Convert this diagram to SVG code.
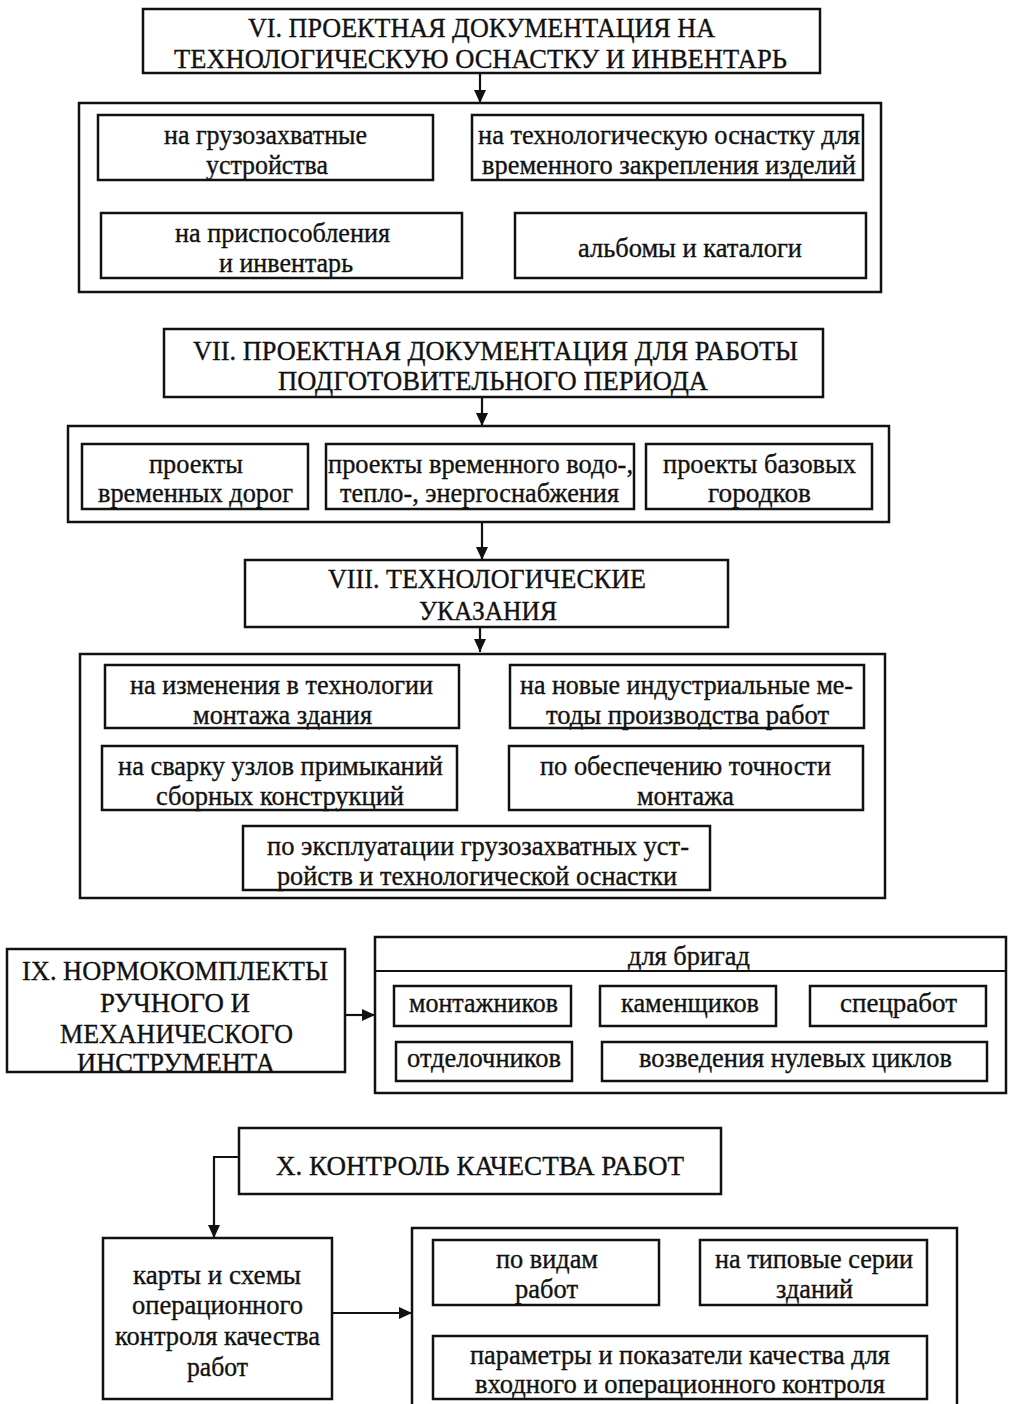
<svg xmlns="http://www.w3.org/2000/svg" width="1010" height="1404" viewBox="0 0 1010 1404">
<style>
.box{fill:none;stroke:#111;stroke-width:2.5}
.ln{fill:none;stroke:#111;stroke-width:2.2}
text{font-family:"Liberation Serif","Times New Roman",serif;font-size:28px;fill:#111;stroke:#111;stroke-width:0.35}
</style>
<defs>
<marker id="ah" markerUnits="userSpaceOnUse" markerWidth="14" markerHeight="14" refX="13" refY="6" orient="auto">
<path d="M0,0 L13,6 L0,12 z" fill="#111"/>
</marker>
</defs>
<rect width="1010" height="1404" fill="#fff"/>

<g id="connectors">
<line class="ln" x1="480" y1="73" x2="480" y2="103" marker-end="url(#ah)"/>
<line class="ln" x1="482" y1="397" x2="482" y2="426" marker-end="url(#ah)"/>
<line class="ln" x1="482" y1="522" x2="482" y2="560" marker-end="url(#ah)"/>
<line class="ln" x1="480" y1="627" x2="480" y2="652" marker-end="url(#ah)"/>
<line class="ln" x1="345" y1="1015" x2="375" y2="1015" marker-end="url(#ah)"/>
<polyline class="ln" points="239,1157 214,1157 214,1238" marker-end="url(#ah)"/>
<line class="ln" x1="332" y1="1313" x2="412" y2="1313" marker-end="url(#ah)"/>
</g>

<g id="vi-title">
<rect class="box" x="143" y="9" width="677" height="64"/>
<text x="248" y="37" textLength="467" lengthAdjust="spacingAndGlyphs">VI. ПРОЕКТНАЯ ДОКУМЕНТАЦИЯ НА</text>
<text x="174" y="68" textLength="613" lengthAdjust="spacingAndGlyphs">ТЕХНОЛОГИЧЕСКУЮ ОСНАСТКУ И ИНВЕНТАРЬ</text>
</g>
<g id="vi-container"><rect class="box" x="79" y="103" width="802" height="189"/></g>
<g id="vi-1">
<rect class="box" x="98" y="115" width="335" height="65"/>
<text x="164" y="144" textLength="203" lengthAdjust="spacingAndGlyphs">на грузозахватные</text>
<text x="206" y="174" textLength="122" lengthAdjust="spacingAndGlyphs">устройства</text>
</g>
<g id="vi-2">
<rect class="box" x="472" y="115" width="391" height="65"/>
<text x="478" y="144" textLength="382" lengthAdjust="spacingAndGlyphs">на технологическую оснастку для</text>
<text x="482" y="174" textLength="374" lengthAdjust="spacingAndGlyphs">временного закрепления изделий</text>
</g>
<g id="vi-3">
<rect class="box" x="101" y="213" width="361" height="65"/>
<text x="175" y="242" textLength="215" lengthAdjust="spacingAndGlyphs">на приспособления</text>
<text x="219" y="272" textLength="134" lengthAdjust="spacingAndGlyphs">и инвентарь</text>
</g>
<g id="vi-4">
<rect class="box" x="515" y="213" width="351" height="65"/>
<text x="578" y="257" textLength="224" lengthAdjust="spacingAndGlyphs">альбомы и каталоги</text>
</g>

<g id="vii-title">
<rect class="box" x="164" y="329" width="659" height="68"/>
<text x="193" y="360" textLength="605" lengthAdjust="spacingAndGlyphs">VII. ПРОЕКТНАЯ ДОКУМЕНТАЦИЯ ДЛЯ РАБОТЫ</text>
<text x="278" y="390" textLength="430" lengthAdjust="spacingAndGlyphs">ПОДГОТОВИТЕЛЬНОГО ПЕРИОДА</text>
</g>
<g id="vii-container"><rect class="box" x="68" y="426" width="821" height="96"/></g>
<g id="vii-1">
<rect class="box" x="82" y="444" width="226" height="65"/>
<text x="149" y="473" textLength="94" lengthAdjust="spacingAndGlyphs">проекты</text>
<text x="98" y="502" textLength="195" lengthAdjust="spacingAndGlyphs">временных дорог</text>
</g>
<g id="vii-2">
<rect class="box" x="326" y="444" width="308" height="65"/>
<text x="328" y="473" textLength="305" lengthAdjust="spacingAndGlyphs">проекты временного водо-,</text>
<text x="340" y="502" textLength="279" lengthAdjust="spacingAndGlyphs">тепло-, энергоснабжения</text>
</g>
<g id="vii-3">
<rect class="box" x="646" y="444" width="226" height="65"/>
<text x="663" y="473" textLength="193" lengthAdjust="spacingAndGlyphs">проекты базовых</text>
<text x="708" y="502" textLength="103" lengthAdjust="spacingAndGlyphs">городков</text>
</g>

<g id="viii-title">
<rect class="box" x="245" y="560" width="483" height="67"/>
<text x="328" y="588" textLength="318" lengthAdjust="spacingAndGlyphs">VIII. ТЕХНОЛОГИЧЕСКИЕ</text>
<text x="419" y="620" textLength="138" lengthAdjust="spacingAndGlyphs">УКАЗАНИЯ</text>
</g>
<g id="viii-container"><rect class="box" x="80" y="654" width="805" height="244"/></g>
<g id="viii-1">
<rect class="box" x="105" y="665" width="354" height="63"/>
<text x="130" y="694" textLength="303" lengthAdjust="spacingAndGlyphs">на изменения в технологии</text>
<text x="193" y="724" textLength="179" lengthAdjust="spacingAndGlyphs">монтажа здания</text>
</g>
<g id="viii-2">
<rect class="box" x="510" y="665" width="354" height="63"/>
<text x="520" y="694" textLength="333" lengthAdjust="spacingAndGlyphs">на новые индустриальные ме-</text>
<text x="546" y="724" textLength="283" lengthAdjust="spacingAndGlyphs">тоды производства работ</text>
</g>
<g id="viii-3">
<rect class="box" x="102" y="746" width="355" height="64"/>
<text x="118" y="775" textLength="325" lengthAdjust="spacingAndGlyphs">на сварку узлов примыканий</text>
<text x="156" y="805" textLength="248" lengthAdjust="spacingAndGlyphs">сборных конструкций</text>
</g>
<g id="viii-4">
<rect class="box" x="509" y="746" width="354" height="64"/>
<text x="540" y="775" textLength="291" lengthAdjust="spacingAndGlyphs">по обеспечению точности</text>
<text x="637" y="805" textLength="97" lengthAdjust="spacingAndGlyphs">монтажа</text>
</g>
<g id="viii-5">
<rect class="box" x="243" y="826" width="467" height="64"/>
<text x="267" y="855" textLength="422" lengthAdjust="spacingAndGlyphs">по эксплуатации грузозахватных уст-</text>
<text x="277" y="885" textLength="400" lengthAdjust="spacingAndGlyphs">ройств и технологической оснастки</text>
</g>

<g id="ix-title">
<rect class="box" x="7" y="949" width="338" height="123"/>
<text x="22" y="980" textLength="306" lengthAdjust="spacingAndGlyphs">IX. НОРМОКОМПЛЕКТЫ</text>
<text x="100" y="1012" textLength="150" lengthAdjust="spacingAndGlyphs">РУЧНОГО И</text>
<text x="60" y="1043" textLength="233" lengthAdjust="spacingAndGlyphs">МЕХАНИЧЕСКОГО</text>
<text x="77" y="1072" textLength="198" lengthAdjust="spacingAndGlyphs">ИНСТРУМЕНТА</text>
</g>
<g id="ix-container">
<rect class="box" x="375" y="937" width="631" height="156"/>
<line class="ln" x1="375" y1="971" x2="1006" y2="971"/>
<text x="628" y="965" textLength="122" lengthAdjust="spacingAndGlyphs">для бригад</text>
</g>
<g id="ix-1"><rect class="box" x="394" y="986" width="177" height="40"/><text x="409" y="1012" textLength="149" lengthAdjust="spacingAndGlyphs">монтажников</text></g>
<g id="ix-2"><rect class="box" x="600" y="986" width="176" height="40"/><text x="621" y="1012" textLength="138" lengthAdjust="spacingAndGlyphs">каменщиков</text></g>
<g id="ix-3"><rect class="box" x="810" y="986" width="176" height="40"/><text x="840" y="1012" textLength="117" lengthAdjust="spacingAndGlyphs">спецработ</text></g>
<g id="ix-4"><rect class="box" x="396" y="1042" width="176" height="39"/><text x="407" y="1067" textLength="154" lengthAdjust="spacingAndGlyphs">отделочников</text></g>
<g id="ix-5"><rect class="box" x="602" y="1042" width="385" height="39"/><text x="639" y="1067" textLength="313" lengthAdjust="spacingAndGlyphs">возведения нулевых циклов</text></g>

<g id="x-title">
<rect class="box" x="239" y="1128" width="482" height="66"/>
<text x="276" y="1175" textLength="408" lengthAdjust="spacingAndGlyphs">X. КОНТРОЛЬ КАЧЕСТВА РАБОТ</text>
</g>
<g id="x-cards">
<rect class="box" x="103" y="1238" width="229" height="161"/>
<text x="133" y="1284" textLength="168" lengthAdjust="spacingAndGlyphs">карты и схемы</text>
<text x="132" y="1314" textLength="171" lengthAdjust="spacingAndGlyphs">операционного</text>
<text x="115" y="1345" textLength="205" lengthAdjust="spacingAndGlyphs">контроля качества</text>
<text x="187" y="1376" textLength="61" lengthAdjust="spacingAndGlyphs">работ</text>
</g>
<g id="x-container"><rect class="box" x="412" y="1228" width="545" height="190"/></g>
<g id="x-1">
<rect class="box" x="433" y="1240" width="226" height="65"/>
<text x="496" y="1268" textLength="102" lengthAdjust="spacingAndGlyphs">по видам</text>
<text x="515" y="1298" textLength="63" lengthAdjust="spacingAndGlyphs">работ</text>
</g>
<g id="x-2">
<rect class="box" x="700" y="1240" width="227" height="65"/>
<text x="715" y="1268" textLength="198" lengthAdjust="spacingAndGlyphs">на типовые серии</text>
<text x="776" y="1298" textLength="77" lengthAdjust="spacingAndGlyphs">зданий</text>
</g>
<g id="x-3">
<rect class="box" x="433" y="1336" width="494" height="63"/>
<text x="470" y="1364" textLength="420" lengthAdjust="spacingAndGlyphs">параметры и показатели качества для</text>
<text x="475" y="1393" textLength="410" lengthAdjust="spacingAndGlyphs">входного и операционного контроля</text>
</g>
</svg>
